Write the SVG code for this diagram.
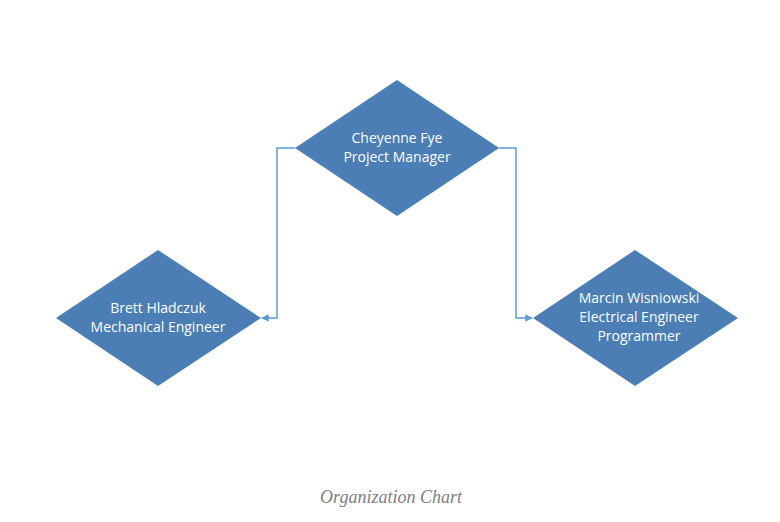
<svg xmlns="http://www.w3.org/2000/svg" width="780" height="522" viewBox="0 0 780 522">
<style>
.node{fill:#4A7EB4;}
.lbl{font-family:"Open Sans","Liberation Sans",sans-serif;font-size:14px;fill:#ffffff;text-anchor:middle;}
.conn{fill:none;stroke:#5B9BD5;stroke-width:1.5;}
.cap{font-family:"Liberation Serif",serif;font-style:italic;font-size:18px;fill:#808080;text-anchor:middle;}
</style>
<defs>
<marker id="arr" viewBox="0 0 10 10" refX="9" refY="5" markerWidth="5" markerHeight="5" orient="auto">
<path d="M0,0 L10,5 L0,10 z" fill="#5B9BD5"/>
</marker>
</defs>
<rect width="780" height="522" fill="#ffffff"/>
<g id="connectors">
<path class="conn" d="M295,148 H277 V318 H262" marker-end="url(#arr)"/>
<path class="conn" d="M499,148 H516 V318 H532" marker-end="url(#arr)"/>
</g>
<g id="node-cheyenne">
<polygon class="node" points="397,80 499,148 397,216 295,148"/>
<text class="lbl" x="397" y="143">Cheyenne Fye</text>
<text class="lbl" x="397" y="162">Project Manager</text>
</g>
<g id="node-brett">
<polygon class="node" points="158,250 261,318 158,386 56,318"/>
<text class="lbl" x="158" y="313">Brett Hladczuk</text>
<text class="lbl" x="158" y="332">Mechanical Engineer</text>
</g>
<g id="node-marcin">
<polygon class="node" points="635,250 738,318 635,386 533,318"/>
<text class="lbl" x="639" y="303">Marcin Wisniowski</text>
<text class="lbl" x="639" y="322">Electrical Engineer</text>
<text class="lbl" x="639" y="341">Programmer</text>
</g>
<text class="cap" x="391" y="503">Organization Chart</text>
</svg>
